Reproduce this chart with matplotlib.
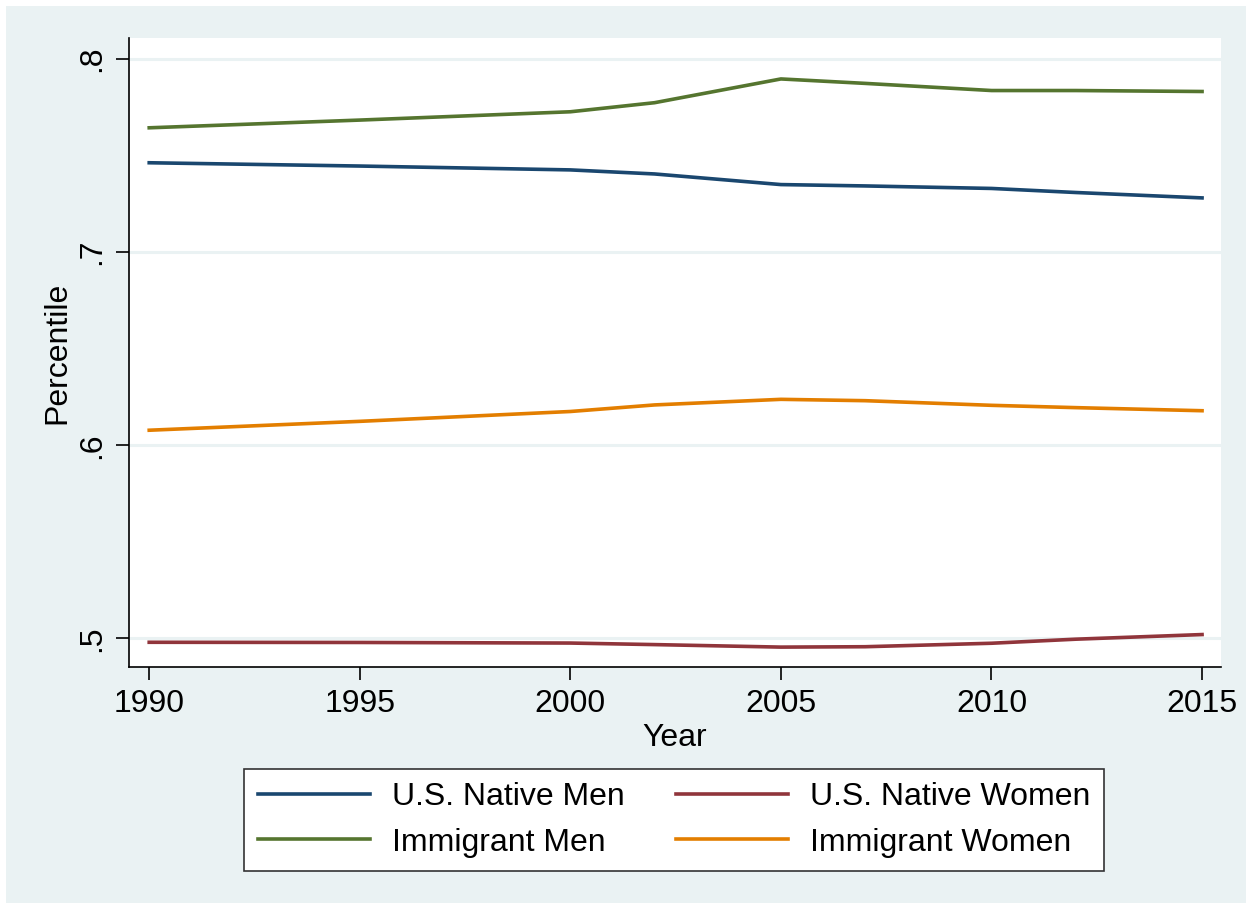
import matplotlib
matplotlib.use("Agg")
import matplotlib.pyplot as plt
from matplotlib.patches import Rectangle

# values
years = [1990, 1995, 2000, 2002, 2005, 2007, 2010, 2012, 2015]
native_men = [0.7463, 0.7446, 0.7426, 0.7405, 0.7350, 0.7343, 0.7330, 0.7309, 0.7281]
native_women = [0.4980, 0.4979, 0.4976, 0.4968, 0.4955, 0.4957, 0.4975, 0.4996, 0.5020]
immigrant_men = [0.7644, 0.7684, 0.7727, 0.7774, 0.7897, 0.7874, 0.7837, 0.7837, 0.7832]
immigrant_women = [0.6078, 0.6124, 0.6175, 0.6209, 0.6238, 0.6231, 0.6207, 0.6195, 0.6179]

x_ticks = [1990, 1995, 2000, 2005, 2010, 2015]
y_ticks = [0.5, 0.6, 0.7, 0.8]
y_labels = [".5", ".6", ".7", ".8"]

bg = "#eaf2f3"
navy = "#1a476f"
maroon = "#90353b"
green = "#55752f"
orange = "#e37e00"

plt.rcParams["font.family"] = ["Liberation Sans", "DejaVu Sans"]

fig = plt.figure(figsize=(12.52, 9.09), dpi=100)
fig.patch.set_facecolor("white")
fig.patches.append(Rectangle((6 / 1252, 6 / 909), 1240 / 1252, 897 / 909,
                             transform=fig.transFigure, facecolor=bg,
                             edgecolor="none", zorder=-10))

ax = fig.add_axes([129 / 1252, 1 - 667 / 909, (1221 - 129) / 1252, (667 - 38) / 909])
ax.set_facecolor("white")

for yv in y_ticks:
    ax.axhline(yv, color=bg, lw=2.2, zorder=1)

lw = 2.6
l_nm, = ax.plot(years, native_men, color=navy, lw=lw, zorder=3)
l_nw, = ax.plot(years, native_women, color=maroon, lw=lw, zorder=3)
l_im, = ax.plot(years, immigrant_men, color=green, lw=lw, zorder=3)
l_iw, = ax.plot(years, immigrant_women, color=orange, lw=lw, zorder=3)

ax.set_xlim(1989.52, 2015.45)
ax.set_ylim(0.4852, 0.8109)

ax.set_xticks(x_ticks)
ax.set_yticks(y_ticks)
ax.set_yticklabels(y_labels, rotation=90, va="center")
ax.tick_params(axis="both", direction="out", length=9.5, width=1.2, color="black",
               labelsize=23, pad=6)

for side in ["top", "right"]:
    ax.spines[side].set_visible(False)
for side in ["left", "bottom"]:
    ax.spines[side].set_color("black")
    ax.spines[side].set_linewidth(1.2)

ax.set_xlabel("Year", fontsize=23, labelpad=3)
ax.set_ylabel("Percentile", fontsize=23, labelpad=4)

# legend is filled column by column, so order gives rows:
# U.S. Native Men | U.S. Native Women / Immigrant Men | Immigrant Women
handles = [l_nm, l_im, l_nw, l_iw]
labels = ["U.S. Native Men", "Immigrant Men", "U.S. Native Women", "Immigrant Women"]
leg = fig.legend(handles, labels, ncol=2, loc="center",
                 bbox_to_anchor=(674 / 1252, 1 - 820 / 909),
                 fontsize=23, frameon=True, fancybox=False, edgecolor="#333333",
                 facecolor="white", framealpha=1, handlelength=3.5,
                 handletextpad=0.7, columnspacing=1.6, labelspacing=0.48,
                 borderpad=0.42, borderaxespad=0)
leg.get_frame().set_linewidth(1.2)

fig.savefig("out.png", dpi=100, facecolor=fig.get_facecolor())
